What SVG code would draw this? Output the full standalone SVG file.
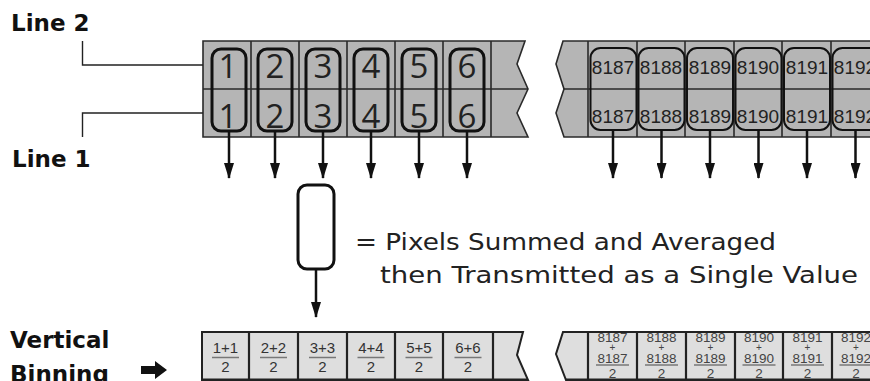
<svg xmlns="http://www.w3.org/2000/svg" width="870" height="381" viewBox="0 0 870 381">
<style>
.strip{fill:#b5b5b5;stroke:#2a2a2a;stroke-width:1.6}
.bstrip{fill:#dedede;stroke:#222;stroke-width:2}
.div{stroke:#2a2a2a;stroke-width:1.6;fill:none}
.bdiv{stroke:#222;stroke-width:2.2;fill:none}
.grp{fill:none;stroke:#111;stroke-width:3}
.grp2{fill:none;stroke:#111;stroke-width:2}
.big{font-family:"Open Sans","DejaVu Sans",sans-serif;font-size:33px;fill:#222;text-anchor:middle}
.mid{font-family:"Liberation Sans",Arial,sans-serif;font-size:19px;fill:#222;text-anchor:middle}
.lbl{font-family:"DejaVu Sans",sans-serif;font-size:23px;font-weight:bold;fill:#111}
.leg{font-family:"DejaVu Sans",sans-serif;font-size:23px;fill:#222}
.fr{font-family:"Liberation Sans",Arial,sans-serif;font-size:15px;fill:#333;text-anchor:middle}
.fs{font-family:"Liberation Sans",Arial,sans-serif;font-size:13.5px;fill:#444;text-anchor:middle}
.fp{font-family:"Liberation Sans",Arial,sans-serif;font-size:10px;fill:#444;text-anchor:middle}
.fl{stroke:#777;stroke-width:1.5}
.thin{fill:none;stroke:#222;stroke-width:1.4}
.arr{stroke:#111;stroke-width:2.5;fill:none}
</style>
<defs>
<marker id="ah" viewBox="0 0 16 10" refX="15" refY="5" markerWidth="16" markerHeight="10" markerUnits="userSpaceOnUse" orient="auto">
<path d="M0,0 L16,5 L0,10 Z" fill="#111"/>
</marker>
</defs>

<!-- Labels -->
<g id="label-line2"><text class="lbl" x="11" y="31">Line 2</text></g>
<g id="label-line1"><text class="lbl" x="12" y="167">Line 1</text></g>
<g id="label-binning">
<text class="lbl" x="10" y="348">Vertical</text>
<text class="lbl" x="10" y="382">Binning</text>
<path d="M141,366 H155 V361 L167,370 L155,379 V374 H141 Z" fill="#111"/>
</g>

<!-- Top left strip -->
<g id="top-left-strip">
<path class="strip" d="M203,41 H525 L517,64 L528,89 L517,113 L528,137 H203 Z"/>
<path class="div" d="M203,89 H528 M251,41 V137 M299,41 V137 M347,41 V137 M395,41 V137 M443,41 V137 M491,41 V137"/>
<g>
<text class="big" x="228" y="78">1</text><text class="big" x="228" y="128">1</text>
<text class="big" x="275" y="78">2</text><text class="big" x="275" y="128">2</text>
<text class="big" x="323" y="78">3</text><text class="big" x="323" y="128">3</text>
<text class="big" x="371" y="78">4</text><text class="big" x="371" y="128">4</text>
<text class="big" x="419" y="78">5</text><text class="big" x="419" y="128">5</text>
<text class="big" x="467" y="78">6</text><text class="big" x="467" y="128">6</text>
</g>
<g>
<rect class="grp" x="212" y="49" width="34" height="82" rx="9"/>
<rect class="grp" x="258" y="49" width="34" height="82" rx="9"/>
<rect class="grp" x="306" y="49" width="34" height="82" rx="9"/>
<rect class="grp" x="354" y="49" width="34" height="82" rx="9"/>
<rect class="grp" x="402" y="49" width="34" height="82" rx="9"/>
<rect class="grp" x="450" y="49" width="34" height="82" rx="9"/>
</g>
</g>

<!-- Top right strip -->
<g id="top-right-strip">
<path class="strip" d="M871,41 H563 L556,64 L564,89 L556,113 L564,137 H871"/>
<path class="div" d="M564,89 H871 M588,41 V137 M637,41 V137 M685,41 V137 M734,41 V137 M782,41 V137 M831,41 V137"/>
<g>
<text class="mid" x="613" y="74">8187</text><text class="mid" x="613" y="123">8187</text>
<text class="mid" x="661" y="74">8188</text><text class="mid" x="661" y="123">8188</text>
<text class="mid" x="710" y="74">8189</text><text class="mid" x="710" y="123">8189</text>
<text class="mid" x="758" y="74">8190</text><text class="mid" x="758" y="123">8190</text>
<text class="mid" x="807" y="74">8191</text><text class="mid" x="807" y="123">8191</text>
<text class="mid" x="855" y="74">8192</text><text class="mid" x="855" y="123">8192</text>
</g>
<g>
<rect class="grp2" x="590.5" y="48" width="46" height="82" rx="10"/>
<rect class="grp2" x="638.5" y="48" width="46" height="82" rx="10"/>
<rect class="grp2" x="687" y="48" width="46" height="82" rx="10"/>
<rect class="grp2" x="735.5" y="48" width="46" height="82" rx="10"/>
<rect class="grp2" x="784" y="48" width="46" height="82" rx="10"/>
<rect class="grp2" x="832.5" y="48" width="46" height="82" rx="10"/>
</g>
</g>

<!-- Legend -->
<g id="legend">
<rect class="grp" x="298" y="185" width="36" height="84" rx="9"/>
<text class="leg" x="355" y="250" textLength="421" lengthAdjust="spacingAndGlyphs">= Pixels Summed and Averaged</text>
<text class="leg" x="380" y="283" textLength="478" lengthAdjust="spacingAndGlyphs">then Transmitted as a Single Value</text>
</g>

<!-- Bottom left strip -->
<g id="bottom-left-strip">
<path class="bstrip" d="M202,332 H523 L517,355 L528,380 H202 Z"/>
<path class="bdiv" d="M249,332 V380 M298,332 V380 M347,332 V380 M395,332 V380 M443,332 V380 M493,332 V380"/>
<line x1="202" y1="380" x2="528" y2="380" stroke="#222" stroke-width="3"/>
<g>
<text class="fr" x="225.5" y="353">1+1</text><line class="fl" x1="212" y1="357.5" x2="239" y2="357.5"/><text class="fr" x="225.5" y="372">2</text>
<text class="fr" x="273.5" y="353">2+2</text><line class="fl" x1="260" y1="357.5" x2="287" y2="357.5"/><text class="fr" x="273.5" y="372">2</text>
<text class="fr" x="322.5" y="353">3+3</text><line class="fl" x1="309" y1="357.5" x2="336" y2="357.5"/><text class="fr" x="322.5" y="372">2</text>
<text class="fr" x="371" y="353">4+4</text><line class="fl" x1="357.5" y1="357.5" x2="384.5" y2="357.5"/><text class="fr" x="371" y="372">2</text>
<text class="fr" x="419" y="353">5+5</text><line class="fl" x1="405.5" y1="357.5" x2="432.5" y2="357.5"/><text class="fr" x="419" y="372">2</text>
<text class="fr" x="468" y="353">6+6</text><line class="fl" x1="454.5" y1="357.5" x2="481.5" y2="357.5"/><text class="fr" x="468" y="372">2</text>
</g>
</g>

<!-- Bottom right strip -->
<g id="bottom-right-strip">
<path class="bstrip" d="M871,332 H563 L556,354 L566,380 H871"/>
<path class="bdiv" d="M588,332 V380 M637,332 V380 M686,332 V380 M735,332 V380 M783,332 V380 M832,332 V380"/>
<line x1="566" y1="380" x2="871" y2="380" stroke="#222" stroke-width="3"/>
<g>
<text class="fs" x="612.5" y="342">8187</text><text class="fp" x="612.5" y="350.5">+</text><text class="fs" x="612.5" y="362.5">8187</text><line class="fl" x1="596" y1="365" x2="629" y2="365"/><text class="fs" x="612.5" y="378">2</text>
<text class="fs" x="661.5" y="342">8188</text><text class="fp" x="661.5" y="350.5">+</text><text class="fs" x="661.5" y="362.5">8188</text><line class="fl" x1="645" y1="365" x2="678" y2="365"/><text class="fs" x="661.5" y="378">2</text>
<text class="fs" x="710.5" y="342">8189</text><text class="fp" x="710.5" y="350.5">+</text><text class="fs" x="710.5" y="362.5">8189</text><line class="fl" x1="694" y1="365" x2="727" y2="365"/><text class="fs" x="710.5" y="378">2</text>
<text class="fs" x="759" y="342">8190</text><text class="fp" x="759" y="350.5">+</text><text class="fs" x="759" y="362.5">8190</text><line class="fl" x1="742.5" y1="365" x2="775.5" y2="365"/><text class="fs" x="759" y="378">2</text>
<text class="fs" x="807.5" y="342">8191</text><text class="fp" x="807.5" y="350.5">+</text><text class="fs" x="807.5" y="362.5">8191</text><line class="fl" x1="791" y1="365" x2="824" y2="365"/><text class="fs" x="807.5" y="378">2</text>
<text class="fs" x="856" y="342">8192</text><text class="fp" x="856" y="350.5">+</text><text class="fs" x="856" y="362.5">8192</text><line class="fl" x1="839.5" y1="365" x2="872" y2="365"/><text class="fs" x="856" y="378">2</text>
</g>
</g>

<!-- Connectors -->
<g id="connectors">
<path class="thin" d="M82.5,41 V65 H203"/>
<path class="thin" d="M203,113 H82.5 V137"/>
<g class="arr" marker-end="url(#ah)">
<line x1="229" y1="131" x2="229" y2="178"/>
<line x1="275" y1="131" x2="275" y2="178"/>
<line x1="323" y1="131" x2="323" y2="178"/>
<line x1="371" y1="131" x2="371" y2="178"/>
<line x1="419" y1="131" x2="419" y2="178"/>
<line x1="467" y1="131" x2="467" y2="178"/>
<line x1="613" y1="130" x2="613" y2="178"/>
<line x1="661.5" y1="130" x2="661.5" y2="178"/>
<line x1="710" y1="130" x2="710" y2="178"/>
<line x1="758.5" y1="130" x2="758.5" y2="178"/>
<line x1="807" y1="130" x2="807" y2="178"/>
<line x1="855.5" y1="130" x2="855.5" y2="178"/>
<line x1="316" y1="269" x2="316" y2="317"/>
</g>
</g>
</svg>
